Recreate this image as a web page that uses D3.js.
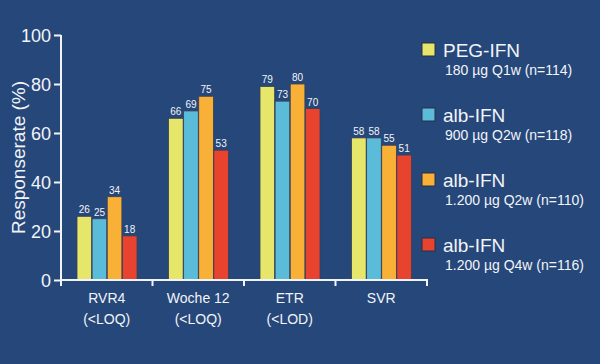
<!DOCTYPE html>
<html><head><meta charset="utf-8">
<script src="https://cdn.jsdelivr.net/npm/d3@7/dist/d3.min.js"></script>
<style>body{margin:0;background:#26477a;}svg{display:block;font-family:"Liberation Sans",Arial,sans-serif;}</style>
</head><body><svg id="c" width="600" height="364"></svg>
<script>
const categories = ["RVR4|(<LOQ)", "Woche 12|(<LOQ)", "ETR|(<LOD)", "SVR"];
const seriesNames = ["PEG-IFN", "alb-IFN", "alb-IFN", "alb-IFN"];
const seriesSub = ["180 µg Q1w (n=114)", "900 µg Q2w (n=118)", "1.200 µg Q2w (n=110)", "1.200 µg Q4w (n=116)"];
const colors = ["#e6e66a", "#5bbcda", "#f8b136", "#e8432f"];
const pegQ1w = [26, 66, 79, 58];
const alb900Q2w = [25, 69, 73, 58];
const alb1200Q2w = [34, 75, 80, 55];
const alb1200Q4w = [18, 53, 70, 51];
const yTicks = [0, 20, 40, 60, 80, 100];

const values = [pegQ1w, alb900Q2w, alb1200Q2w, alb1200Q4w];
const svg = d3.select("#c");
svg.append("rect").attr("width", 600).attr("height", 364).attr("fill", "#26477a");
const fg = "#f2f4f8";
const x0 = 61, x1 = 427, yTop = 35, yBot = 280;
const x = d3.scaleBand().domain(categories).range([x0, x1]);
const xs = d3.scaleBand().domain(d3.range(4)).range([16, 76]).paddingInner(0.03);
const y = d3.scaleLinear().domain([0, 100]).range([yBot, yTop]);

// bars
categories.forEach((c, ci) => {
  const g = svg.append("g").attr("transform", `translate(${x(c)},0)`);
  values.forEach((s, si) => {
    g.append("rect").attr("x", xs(si)).attr("y", y(s[ci])).attr("width", xs.bandwidth())
      .attr("height", y(0) - y(s[ci])).attr("fill", colors[si]).attr("stroke", "#3a3f55").attr("stroke-width", 0.8);
    g.append("text").attr("x", xs(si) + xs.bandwidth() / 2).attr("y", y(s[ci]) - 3)
      .attr("text-anchor", "middle").attr("fill", fg).attr("font-size", 10).text(s[ci]);
  });
});

// y axis
const ya = svg.append("g").attr("transform", `translate(${x0},0)`)
  .call(d3.axisLeft(y).tickValues(yTicks).tickSize(7).tickPadding(3));
ya.selectAll("path,line").attr("stroke", fg).attr("stroke-width", 2);
ya.select("path").attr("d", `M0,${yTop}V${yBot}`);
ya.selectAll("text").attr("fill", fg).attr("font-size", 18).attr("font-family", "Liberation Sans, Arial, sans-serif").attr("dy", "0.35em");

// x axis
const xa = svg.append("g").attr("transform", `translate(0,${yBot})`);
xa.append("line").attr("x1", x0 - 1).attr("x2", x1 + 1).attr("stroke", fg).attr("stroke-width", 2);
const bounds = categories.map(c => x(c)).concat([x1]);
xa.selectAll("line.t").data(bounds).join("line").attr("class", "t")
  .attr("x1", d => d).attr("x2", d => d).attr("y1", 0).attr("y2", 6).attr("stroke", fg).attr("stroke-width", 2);
categories.forEach(c => {
  const lines = c.split("|");
  lines.forEach((l, i) => {
    xa.append("text").attr("x", x(c) + x.bandwidth() / 2).attr("y", 23 + i * 21)
      .attr("text-anchor", "middle").attr("fill", fg).attr("font-size", 14).text(l);
  });
});

// y title
svg.append("text").attr("transform", `translate(18,${(yTop + yBot) / 2 + 0}) rotate(-90)`)
  .attr("text-anchor", "middle").attr("dy", "0.35em").attr("fill", fg).attr("font-size", 19).text("Responserate (%)");

// legend
seriesNames.forEach((n, i) => {
  const gy = 43 + i * 65;
  const g = svg.append("g").attr("transform", `translate(422,${gy})`);
  g.append("rect").attr("width", 13).attr("height", 13).attr("fill", colors[i]).attr("stroke", "#2a2f45").attr("stroke-width", 1);
  g.append("text").attr("x", 21).attr("y", 13.5).attr("fill", fg).attr("font-size", 19).text(n);
  g.append("text").attr("x", 23).attr("y", 31.5).attr("fill", fg).attr("font-size", 14).text(seriesSub[i]);
});
</script></body></html>
